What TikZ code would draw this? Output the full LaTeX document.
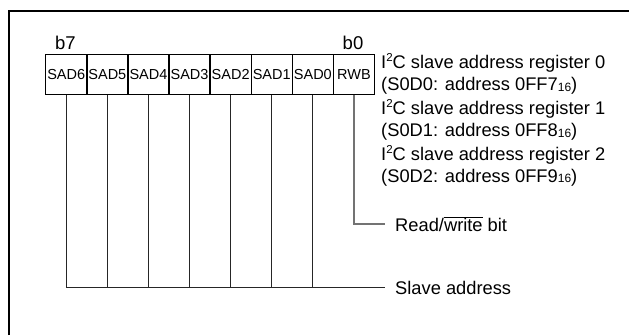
\documentclass[tikz,border=0pt]{standalone}
\usepackage{fontspec}
\setmainfont{Liberation Sans}
\begin{document}
\begin{tikzpicture}[x=1pt,y=-1pt,
  cell/.style={draw=black,line width=1.4pt,minimum width=41.1pt,minimum height=40.5pt,inner sep=0pt,anchor=north west,font=\fontsize{14.5}{16}\selectfont},
  lbl/.style={anchor=west,inner sep=0pt,font=\fontsize{18.3}{22}\selectfont},
  bitlbl/.style={inner sep=0pt,font=\fontsize{18.5}{22}\selectfont},
  conn/.style={draw=black!85,line width=0.8pt},
  rconn/.style={draw=black!55,line width=1.1pt}]
\useasboundingbox (0,0) rectangle (629,335);
\draw[line width=1.5pt] (9,335) -- (9,11) -- (629,11);
% cells
\foreach \t [count=\i from 0] in {SAD6,SAD5,SAD4,SAD3,SAD2,SAD1,SAD0,RWB}{
  \node[cell] (c\i) at ({45+41.1*\i},53.5) {\t};
}
\node[bitlbl] (b7) at (65.5,43) {b7};
\node[bitlbl] (b0) at (353,43) {b0};
% right texts
\newcommand{\supt}[1]{\raisebox{0.38em}{\fontsize{11.5}{11}\selectfont #1}}
\newcommand{\subt}[1]{\raisebox{-0.04em}{\fontsize{12}{11}\selectfont #1}}
\node[lbl] (r0) at (381,63) {I\supt{2}C slave address register 0};
\node[lbl] (a0) at (381,86) {(S0D0: address 0FF7\subt{16})};
\node[lbl] (r1) at (381,109) {I\supt{2}C slave address register 1};
\node[lbl] (a1) at (381,132) {(S0D1: address 0FF8\subt{16})};
\node[lbl] (r2) at (381,155) {I\supt{2}C slave address register 2};
\node[lbl] (a2) at (381,177.5) {(S0D2: address 0FF9\subt{16})};
\node[lbl] (rw) at (395,224) {Read/$\overline{\mbox{write}}$ bit};
\node[lbl] (sa) at (395,287.5) {Slave address};
% connectors
\coordinate (rwend) at (385,224);
\coordinate (saend) at (385,287.5);
\draw[rconn] (c7.south) |- (rwend);
\foreach \i in {0,...,6}{
  \draw[conn] (c\i.south) -- (c\i.south |- saend);
}
\draw[conn] (c0.south |- saend) -- (saend);
\end{tikzpicture}
\end{document}
